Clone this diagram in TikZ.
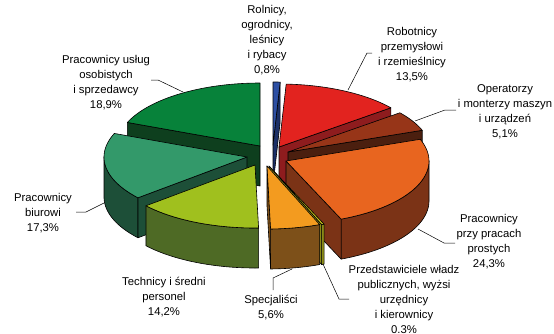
\documentclass[tikz,border=0pt]{standalone}
\usepackage{fontspec}
\setmainfont{Liberation Sans}
\definecolor{uslugtop}{HTML}{07823A}
\definecolor{uslugside}{HTML}{0E3F1E}
\definecolor{biurtop}{HTML}{33996A}
\definecolor{biurside}{HTML}{1D4F38}
\definecolor{techtop}{HTML}{A0C01E}
\definecolor{techside}{HTML}{4E6A25}
\definecolor{spectop}{HTML}{F39B1F}
\definecolor{specside}{HTML}{7D5019}
\definecolor{przedtop}{HTML}{C9C41A}
\definecolor{przedside}{HTML}{8A8A18}
\definecolor{prosttop}{HTML}{E8651F}
\definecolor{prostside}{HTML}{7B3316}
\definecolor{opertop}{HTML}{973518}
\definecolor{operside}{HTML}{4B1F0F}
\definecolor{robtop}{HTML}{E2231F}
\definecolor{robside}{HTML}{8E1C1E}
\definecolor{roltop}{HTML}{2D4FA3}
\definecolor{rolside}{HTML}{1B2F66}
\newcommand{\pieRx}{143}
\newcommand{\pieRy}{63}
\newcommand{\pieDz}{40}
\newcommand{\slicetop}[5]{%
  \filldraw[slice,fill=#5] (#1,#2) -- plot[domain=#3:#4,samples=40] ({#1+\pieRx*cos(\x)},{#2-\pieRy*sin(\x)}) -- cycle;}
\newcommand{\slicewall}[5]{%
  \filldraw[slice,fill=#5] plot[domain=#3:#4,samples=40] ({#1+\pieRx*cos(\x)},{#2-\pieRy*sin(\x)})
    -- plot[domain=#4:#3,samples=40] ({#1+\pieRx*cos(\x)},{#2+\pieDz-\pieRy*sin(\x)}) -- cycle;}
\newcommand{\sliceface}[4]{%
  \filldraw[slice,fill=#4] (#1,#2) -- ({#1+\pieRx*cos(#3)},{#2-\pieRy*sin(#3)}) -- ++(0,\pieDz) -- (#1,{#2+\pieDz}) -- cycle;}
\begin{document}
\begin{tikzpicture}[x=1pt,y=-1pt,
    slice/.style={draw=black,line width=0.6pt,line join=round},
    lbl/.style={align=center,inner sep=0pt,font=\fontsize{11.3}{15}\selectfont},
    leader/.style={draw=black,line width=0.5pt}]
  \useasboundingbox (0,0) rectangle (554,333);

  \sliceface{260}{146}{158.04}{uslugside}
  \slicetop{260}{146}{90}{158.04}{uslugtop}

  \sliceface{273}{145}{87.12}{rolside}
  \slicetop{273}{145}{87.12}{90}{roltop}

  \sliceface{279}{147}{38.52}{robside}
  \slicetop{279}{147}{38.52}{87.12}{robtop}

  \sliceface{288}{152}{20.16}{operside}
  \slicetop{288}{152}{20.16}{38.52}{opertop}

  \slicewall{247}{157}{180}{220.32}{biurside}
  \sliceface{247}{157}{220.32}{biurside}
  \slicetop{247}{157}{158.04}{220.32}{biurtop}

  \slicewall{286}{161}{-67.32}{0}{prostside}
  \sliceface{286}{161}{-67.32}{prostside}
  \slicetop{286}{161}{-67.32}{20.16}{prosttop}

  \slicewall{255}{165}{-139.68}{-88.56}{techside}
  \slicetop{255}{165}{-139.68}{-88.56}{techtop}

  \slicewall{269}{166}{-68.4}{-67.32}{przedside}
  \sliceface{269}{166}{-68.4}{przedside}
  \slicetop{269}{166}{-68.4}{-67.32}{przedtop}

  \slicewall{267}{166}{-88.56}{-68.4}{specside}
  \sliceface{267}{166}{-88.56}{specside}
  \slicetop{267}{166}{-88.56}{-68.4}{spectop}

  \node[lbl] (rolnicy) at (267,40) {Rolnicy,\\ogrodnicy,\\leśnicy\\i rybacy\\0,8\%};
  \node[lbl] (robotnicy) at (412,54.5) {Robotnicy\\przemysłowi\\i rzemieślnicy\\13,5\%};
  \node[lbl] (operatorzy) at (505,111.5) {Operatorzy\\i monterzy maszyn\\i urządzeń\\5,1\%};
  \node[lbl] (proste) at (489,241.5) {Pracownicy\\przy pracach\\prostych\\24,3\%};
  \node[lbl] (przedst) at (404,299) {Przedstawiciele władz\\publicznych, wyżsi\\urzędnicy\\i kierownicy\\0.3\%};
  \node[lbl] (specjalisci) at (271,308) {Specjaliści\\5,6\%};
  \node[lbl] (technicy) at (164,297) {Technicy i średni\\personel\\14,2\%};
  \node[lbl] (biurowi) at (43,213) {Pracownicy\\biurowi\\17,3\%};
  \node[lbl] (uslugi) at (106,82.5) {Pracownicy usług\\osobistych\\i sprzedawcy\\18,9\%};

  \coordinate (uslugi-a) at (151,80);
  \coordinate (uslugi-b) at (158,80);
  \coordinate (uslugi-c) at (183,92);
  \coordinate (robotnicy-a) at (372,53);
  \coordinate (robotnicy-b) at (367,53);
  \coordinate (robotnicy-c) at (348,90);
  \coordinate (operatorzy-a) at (456,110);
  \coordinate (operatorzy-b) at (445,110);
  \coordinate (operatorzy-c) at (415,121);
  \coordinate (biurowi-a) at (76,212);
  \coordinate (biurowi-b) at (86,212);
  \coordinate (biurowi-c) at (104,203);
  \coordinate (proste-a) at (455,243);
  \coordinate (proste-b) at (444,243);
  \coordinate (proste-c) at (418,229);
  \coordinate (specjalisci-a) at (273,290);
  \coordinate (specjalisci-b) at (273,278);
  \coordinate (specjalisci-c) at (292,269);
  \coordinate (przedst-a) at (349,299);
  \coordinate (przedst-b) at (339,299);
  \coordinate (przedst-c) at (323,264);

  \draw[leader] (uslugi-a) -- (uslugi-b) -- (uslugi-c);
  \draw[leader] (robotnicy-a) -- (robotnicy-b) -- (robotnicy-c);
  \draw[leader] (operatorzy-a) -- (operatorzy-b) -- (operatorzy-c);
  \draw[leader] (biurowi-a) -- (biurowi-b) -- (biurowi-c);
  \draw[leader] (proste-a) -- (proste-b) -- (proste-c);
  \draw[leader] (specjalisci-a) -- (specjalisci-b) -- (specjalisci-c);
  \draw[leader] (przedst-a) -- (przedst-b) -- (przedst-c);
\end{tikzpicture}
\end{document}
